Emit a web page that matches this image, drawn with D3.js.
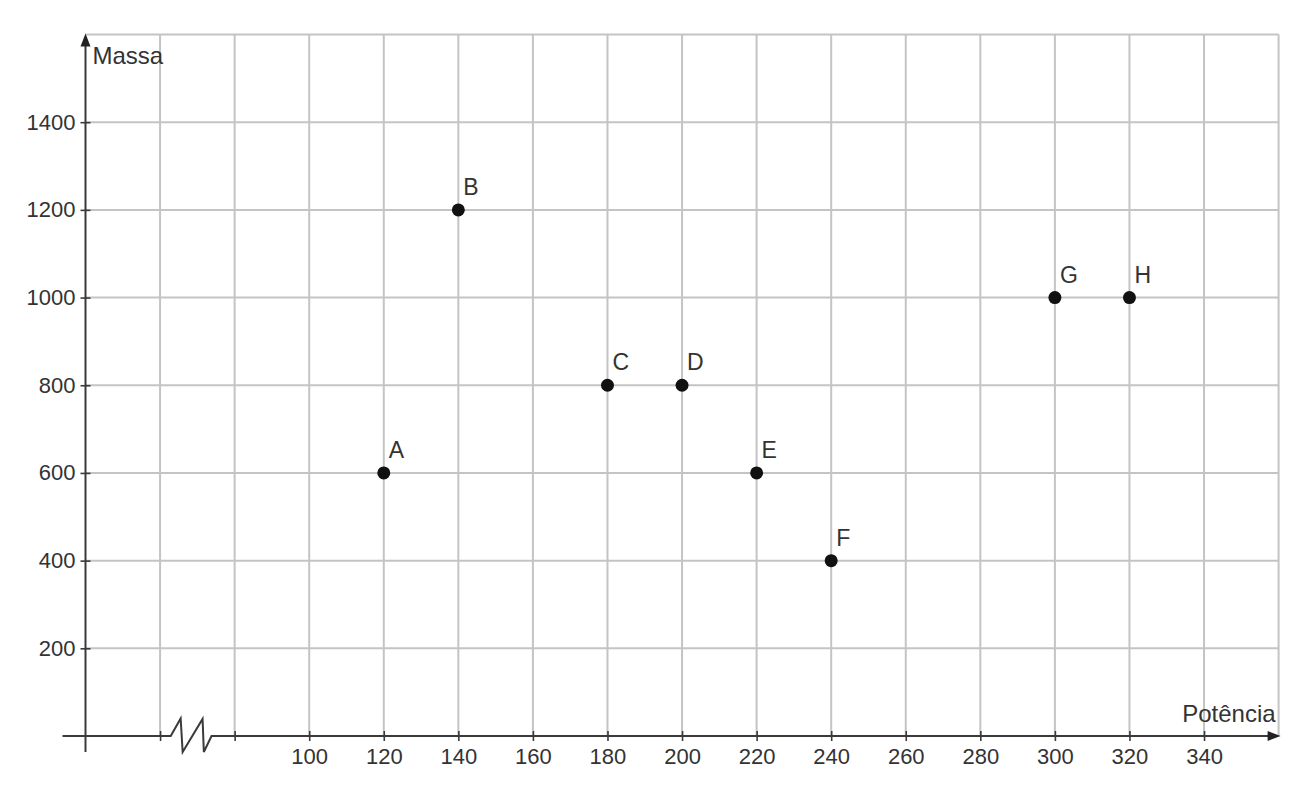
<!DOCTYPE html>
<html>
<head>
<meta charset="utf-8">
<script src="https://cdn.jsdelivr.net/npm/d3@7"></script>
<style>
  html, body { margin: 0; padding: 0; background: #fff; }
  svg { display: block; }
  text { font-family: "Liberation Sans", Arial, Helvetica, sans-serif; fill: #333; }
</style>
</head>
<body>
<svg id="chart" width="1313" height="800"></svg>
<script>
// ---- data ----
const pointLabels = ["A", "B", "C", "D", "E", "F", "G", "H"];
const potencia    = [120, 140, 180, 200, 220, 240, 300, 320];
const massa       = [600, 1200, 800, 800, 600, 400, 1000, 1000];

const xTickValues = [100, 120, 140, 160, 180, 200, 220, 240, 260, 280, 300, 320, 340];
const xBreakTicks = [60, 80];             // unlabeled ticks either side of the axis break
const xGridEnd = 360;
const yTickValues = [200, 400, 600, 800, 1000, 1200, 1400];
const yGridEnd = 1600;
const xDomain = [40, 360];
const yDomain = [0, 1600];
const xTitle = "Potência";
const yTitle = "Massa";

// ---- layout ----
const svg = d3.select("#chart");
const plotLeft = 85.5, plotRight = 1278.6, plotTop = 34.5, plotBottom = 736;
const x = d3.scaleLinear().domain(xDomain).range([plotLeft, plotRight]);
const y = d3.scaleLinear().domain(yDomain).range([plotBottom, plotTop]);

const gridColor = "#c4c4c4";
const axisColor = "#3a3a3a";

// grid
const g = svg.append("g");
const vGrid = xBreakTicks.concat(xTickValues, [xGridEnd]);
g.selectAll("line.vg").data(vGrid).join("line").attr("class", "vg")
  .attr("x1", d => x(d)).attr("x2", d => x(d))
  .attr("y1", y(yGridEnd)).attr("y2", y(0))
  .attr("stroke", gridColor).attr("stroke-width", 2);
const hGrid = yTickValues.concat([yGridEnd]);
g.selectAll("line.hg").data(hGrid).join("line").attr("class", "hg")
  .attr("x1", x(xDomain[0])).attr("x2", x(xGridEnd))
  .attr("y1", d => y(d)).attr("y2", d => y(d))
  .attr("stroke", gridColor).attr("stroke-width", 2);

// axes lines with arrows
const step = x(80) - x(60);
const bx = x(60);
const y0 = y(0);
const zig = [
  [bx + 0.143 * step, y0],
  [bx + 0.276 * step, y0 - 17.5],
  [bx + 0.303 * step, y0 + 16],
  [bx + 0.570 * step, y0 - 17],
  [bx + 0.587 * step, y0 + 16],
  [bx + 0.690 * step, y0]
];
const axisG = svg.append("g").attr("fill", "none").attr("stroke", axisColor).attr("stroke-width", 2);
axisG.append("path").attr("d", d3.line()([[x(xDomain[0]) - 23, y0], ...zig, [x(xGridEnd) - 6, y0]]));
axisG.append("line").attr("x1", x(xDomain[0])).attr("x2", x(xDomain[0]))
  .attr("y1", y0 + 16).attr("y2", y(yGridEnd) + 8);

// arrow heads
svg.append("path")
  .attr("d", `M${x(xGridEnd) + 2},${y0} L${x(xGridEnd) - 11},${y0 - 5} L${x(xGridEnd) - 11},${y0 + 5} Z`)
  .attr("fill", "#222");
svg.append("path")
  .attr("d", `M${x(xDomain[0])},${y(yGridEnd) - 1} L${x(xDomain[0]) - 5},${y(yGridEnd) + 12} L${x(xDomain[0]) + 5},${y(yGridEnd) + 12} Z`)
  .attr("fill", "#222");

// ticks via d3 axes
function styleAxis(sel) {
  sel.select(".domain").remove();
  sel.selectAll(".tick line").attr("stroke", axisColor).attr("stroke-width", 1.6);
  sel.selectAll(".tick text").attr("fill", "#333")
    .style("font-size", "22px")
    .style("font-family", '"Liberation Sans", Arial, Helvetica, sans-serif');
}
const xTicksAll = xBreakTicks.concat(xTickValues);
svg.append("g").attr("transform", `translate(0,${y0})`)
  .call(d3.axisBottom(x).tickValues(xTicksAll).tickSize(5).tickPadding(7)
    .tickFormat(d => xTickValues.includes(d) ? String(d) : ""))
  .call(styleAxis);
svg.append("g").attr("transform", `translate(0,${y0})`)
  .call(d3.axisTop(x).tickValues(xTicksAll).tickSize(5).tickFormat(""))
  .call(styleAxis);
svg.append("g").attr("transform", `translate(${x(xDomain[0])},0)`)
  .call(d3.axisLeft(y).tickValues(yTickValues).tickSize(5).tickPadding(5).tickFormat(d => String(d)))
  .call(styleAxis);
svg.append("g").attr("transform", `translate(${x(xDomain[0])},0)`)
  .call(d3.axisRight(y).tickValues(yTickValues).tickSize(5).tickFormat(""))
  .call(styleAxis);

// axis titles
svg.append("text").attr("x", x(xDomain[0]) + 7).attr("y", y(yGridEnd) + 29)
  .style("font-size", "24px").text(yTitle);
svg.append("text").attr("x", x(xGridEnd) - 3).attr("y", y0 - 14)
  .attr("text-anchor", "end").style("font-size", "24px").text(xTitle);

// points
const pts = pointLabels.map((l, i) => ({ label: l, px: potencia[i], m: massa[i] }));
svg.append("g").selectAll("circle").data(pts).join("circle")
  .attr("cx", d => x(d.px)).attr("cy", d => y(d.m)).attr("r", 6.5)
  .attr("fill", "#111");
svg.append("g").selectAll("text").data(pts).join("text")
  .attr("x", d => x(d.px) + 5).attr("y", d => y(d.m) - 15)
  .style("font-size", "23px").text(d => d.label);
</script>
</body>
</html>
